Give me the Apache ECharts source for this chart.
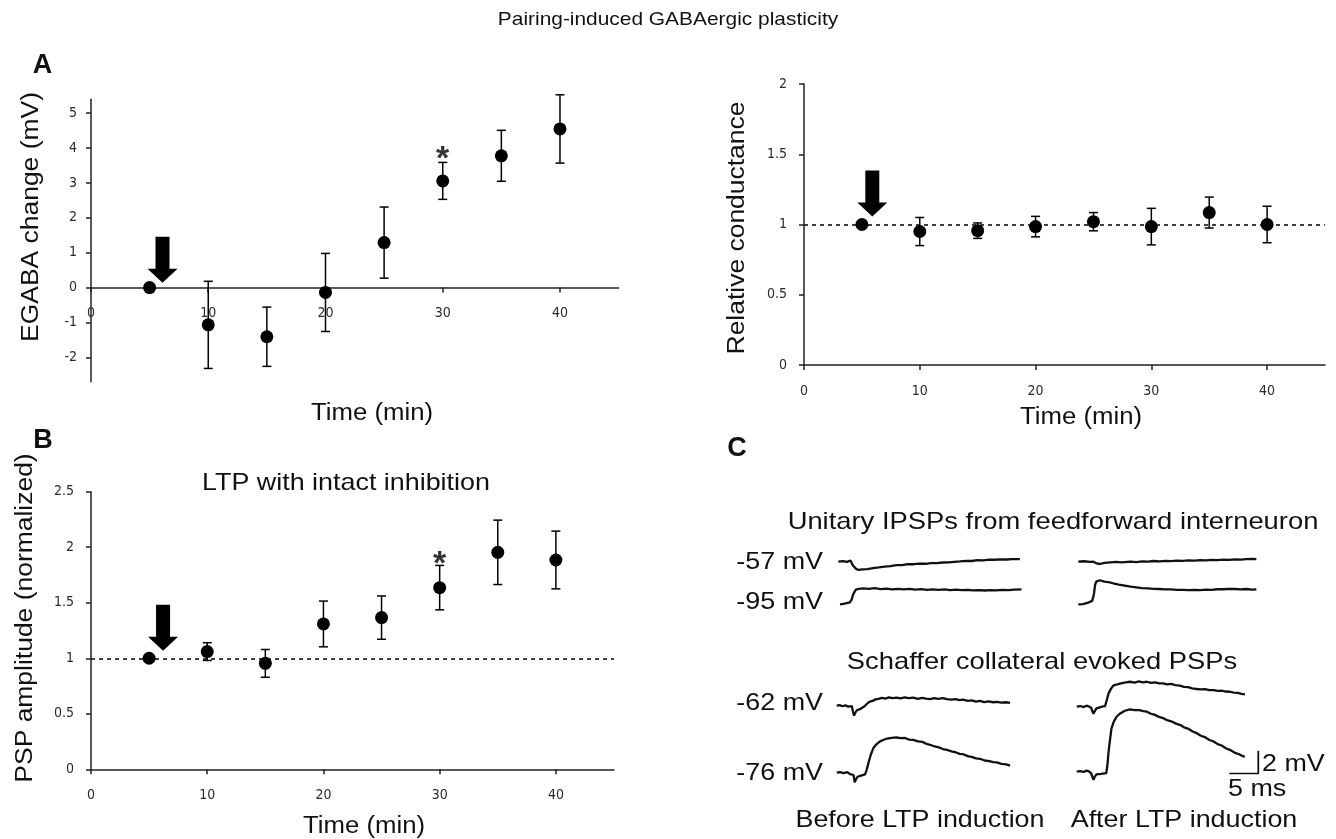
<!DOCTYPE html>
<html><head><meta charset="utf-8">
<script src="https://cdn.jsdelivr.net/npm/echarts@6/dist/echarts.min.js"></script>
<style>html,body{margin:0;padding:0;background:#fff}#c{width:1336px;height:839px}</style>
</head><body><div id="c"></div>
<script>
// ---------- data ----------
const timeMin = [5, 10, 15, 20, 25, 30, 35, 40];
const egabaMean = [0, -1.07, -1.41, -0.14, 1.29, 3.06, 3.78, 4.55];
const egabaErr  = [0, 1.25, 0.85, 1.12, 1.02, 0.53, 0.73, 0.98];
const condMean  = [1.0, 0.95, 0.956, 0.985, 1.02, 0.985, 1.085, 1.0];
const condErr   = [0, 0.10, 0.055, 0.073, 0.065, 0.13, 0.11, 0.13];
const pspMean   = [1.0, 1.06, 0.954, 1.309, 1.366, 1.636, 1.954, 1.885];
const pspErr    = [0, 0.08, 0.125, 0.206, 0.195, 0.20, 0.29, 0.26];
const xTicks  = [0, 10, 20, 30, 40];
const yTicksA = [-2, -1, 0, 1, 2, 3, 4, 5];
const yTicksR = [0, 0.5, 1, 1.5, 2];
const yTicksB = [0, 0.5, 1, 1.5, 2, 2.5];
const yRangeA = [-2.7, 5.4];
const baselineRel = 1;
const arrowA = [[6.1, 0.80]];
const arrowR = [[5.9, 1.22]];
const arrowB = [[6.2, 1.275]];
const starA = [[30, 3.97]];
const starB = [[30, 1.93]];
// traces: [time ms, mV relative to start]
const tr57Before = [[0,0],[0.8,0.05],[1.5,-0.02],[2.1,0.1],[2.5,-0.3],[3.0,-0.6],[3.5,-0.72],[4.2,-0.66],[5,-0.64],[6,-0.55],[7,-0.49],[8,-0.42],[9,-0.38],[10,-0.3],[11,-0.3],[12,-0.22],[13,-0.22],[14,-0.17],[15,-0.18],[16,-0.12],[17,-0.12],[18,-0.07],[19,-0.06],[20,-0.01],[21,0.02],[22,0.07],[23,0.06],[24,0.13],[25,0.12],[26,0.18],[27,0.17],[28,0.21],[29,0.19],[30,0.23],[31.3,0.23]];
const tr95Before = [[0,0],[0.8,0.05],[1.7,0.17],[2.0,0.4],[2.3,0.9],[2.7,1.25],[3.2,1.35],[4,1.38],[5,1.34],[6,1.4],[7,1.32],[8,1.37],[9,1.3],[10,1.35],[11,1.29],[12,1.34],[13,1.27],[14,1.32],[15,1.26],[16,1.3],[17,1.25],[18,1.29],[19,1.24],[20,1.28],[21,1.23],[22,1.26],[23,1.21],[24,1.24],[25,1.2],[26,1.23],[27,1.21],[28,1.25],[29,1.23],[30,1.28],[31.3,1.3]];
const tr57After = [[0,0],[1,0.04],[2,-0.02],[2.6,0],[3.2,-0.15],[3.7,-0.2],[4.5,-0.1],[5.5,-0.06],[6.5,-0.02],[7.5,-0.06],[9,0],[10,-0.03],[11,0.03],[12,0],[13,0.06],[14,0.03],[15,0.08],[16,0.05],[17,0.1],[18,0.07],[19,0.11],[20,0.1],[21,0.14],[22,0.11],[23,0.16],[24,0.13],[25,0.18],[26,0.15],[27,0.21],[28,0.18],[29,0.22],[30,0.25],[30.7,0.22]];
const tr95After = [[0,0],[0.8,0.02],[1.7,0.15],[2.4,0.3],[2.7,0.9],[2.9,1.7],[3.1,1.97],[3.7,2.09],[4.5,1.98],[5.2,1.93],[6,1.83],[7,1.72],[8,1.63],[9,1.53],[10,1.48],[11,1.41],[12,1.39],[13,1.34],[14,1.33],[15,1.29],[16,1.29],[17,1.26],[18,1.26],[19,1.24],[20,1.26],[21,1.24],[22,1.27],[23,1.26],[24,1.31],[25,1.31],[26,1.34],[27,1.33],[28,1.3],[29,1.33],[30,1.28],[30.7,1.3]];
const tr62Before = [[0,0],[0.5,0.05],[1,-0.05],[1.5,0.03],[2,-0.08],[2.6,-0.03],[2.8,-0.5],[3.0,-0.87],[3.2,-0.6],[3.5,-0.4],[4,-0.3],[4.3,-0.2],[4.8,-0.05],[5.3,0.2],[5.7,0.35],[6.2,0.42],[6.7,0.55],[7.2,0.6],[7.8,0.68],[8.4,0.62],[9,0.72],[9.6,0.66],[10.3,0.7],[11,0.63],[11.7,0.72],[12.4,0.65],[13.2,0.7],[14,0.6],[14.7,0.68],[15.4,0.62],[16.1,0.58],[16.8,0.66],[17.5,0.6],[18.3,0.66],[19,0.58],[19.8,0.52],[20.5,0.58],[21.2,0.48],[21.8,0.52],[22.6,0.42],[23.3,0.46],[24,0.36],[24.7,0.42],[25.4,0.32],[26.2,0.38],[27,0.3],[27.6,0.34],[28.4,0.26],[29.2,0.3],[29.9,0.25]];
const tr76Before = [[0,0],[0.6,0.05],[1.2,-0.03],[1.8,0.04],[2.3,-0.12],[2.9,-0.2],[3.1,-0.84],[3.3,-0.6],[3.6,-0.35],[4.2,-0.25],[4.9,-0.14],[5.2,0.3],[5.5,0.9],[5.9,1.6],[6.3,2.12],[6.8,2.45],[7.4,2.7],[8.0,2.84],[8.7,2.97],[9.5,3.03],[10.3,3.08],[11,3.0],[11.8,3.02],[12.5,2.88],[13.2,2.86],[14,2.72],[14.8,2.68],[15.5,2.5],[16.1,2.43],[16.9,2.28],[17.6,2.2],[18.3,2.06],[19,1.99],[19.8,1.86],[20.6,1.76],[21.2,1.64],[21.8,1.61],[22.6,1.44],[23.4,1.36],[24,1.24],[24.7,1.21],[25.5,1.06],[26.3,1.0],[27,0.92],[27.6,0.89],[28.4,0.76],[29.2,0.72],[29.9,0.61]];
const tr62After = [[0,0],[0.6,0.06],[1.2,-0.03],[1.7,0.09],[2.1,0.02],[2.5,-0.09],[2.7,-0.4],[2.9,-0.61],[3.1,-0.4],[3.4,-0.14],[4,-0.05],[4.5,0.02],[4.9,0.06],[5.2,0.6],[5.5,1.16],[5.9,1.55],[6.3,1.83],[7,1.95],[7.8,2.05],[8.5,2.12],[9.2,2.17],[10,2.1],[10.7,2.2],[11.4,2.12],[12.1,2.17],[12.8,2.08],[13.5,2.12],[14.2,2.02],[14.9,2.03],[15.6,1.95],[16.3,1.98],[17,1.88],[17.8,1.83],[18.5,1.72],[19.2,1.7],[19.9,1.6],[20.7,1.54],[21.4,1.5],[22.1,1.52],[22.9,1.44],[23.6,1.45],[24.3,1.38],[25,1.4],[25.7,1.32],[26.4,1.3],[27.1,1.22],[27.8,1.2],[28.4,1.12],[29,1.07]];
const tr76After = [[0,0],[0.6,0.05],[1.2,-0.02],[1.7,0.09],[2.1,0.03],[2.5,-0.14],[2.7,-0.45],[2.9,-0.7],[3.1,-0.45],[3.4,-0.23],[4.2,-0.18],[5.1,-0.12],[5.3,0.6],[5.5,1.74],[5.8,3.0],[6.0,3.77],[6.4,4.35],[6.9,4.8],[7.5,5.07],[8.3,5.3],[9.2,5.42],[10,5.36],[10.8,5.35],[11.5,5.26],[12.1,5.22],[12.8,5.04],[13.5,4.94],[14.2,4.76],[14.9,4.66],[15.6,4.48],[16.4,4.36],[17.1,4.18],[17.8,4.08],[18.5,3.86],[19.3,3.72],[20,3.5],[20.7,3.35],[21.4,3.13],[22.2,2.98],[22.9,2.76],[23.6,2.63],[24.3,2.4],[25,2.28],[25.7,2.04],[26.4,1.9],[27.2,1.66],[28,1.52],[28.5,1.38],[29,1.3]];
const scaleBar = [[0,0],[5,0],[5,2]];

// ---------- styling helpers ----------
const INK = '#000';
const AX = '#222';
const TICKC = '#2a2a2a';
const tickFont = "'Liberation Sans Narrow','DejaVu Sans Condensed','Liberation Sans',sans-serif";
const txtFont = "'Liberation Sans',Arial,sans-serif";

function xAx(gi, offset){
  return {gridIndex: gi, type: 'value', min: 0, max: 45, position: 'bottom', offset: offset,
    axisLine: {show: true, onZero: false, lineStyle: {color: AX, width: 1.5}},
    axisTick: {show: true, length: 5, customValues: xTicks, lineStyle: {color: AX, width: 1.5}},
    axisLabel: {customValues: xTicks, margin: 19, color: TICKC, fontSize: 14, fontFamily: tickFont},
    splitLine: {show: false}};
}
function yAx(gi, min, max, ticks, margin){
  return {gridIndex: gi, type: 'value', min: min, max: max,
    axisLine: {show: true, onZero: false, lineStyle: {color: AX, width: 1.5}},
    axisTick: {show: true, length: 5, customValues: ticks, lineStyle: {color: AX, width: 1.5}},
    axisLabel: {customValues: ticks, margin: margin, color: TICKC, fontSize: 14, fontFamily: tickFont},
    splitLine: {show: false}};
}
function errItem(params, api){
  const x = api.value(0), m = api.value(1), e = api.value(2);
  if (!e) return null;
  const top = api.coord([x, m + e]), bot = api.coord([x, m - e]);
  const w = 4.5, st = {stroke: INK, lineWidth: 1.5};
  return {type: 'group', children: [
    {type: 'line', shape: {x1: top[0], y1: top[1], x2: bot[0], y2: bot[1]}, style: st},
    {type: 'line', shape: {x1: top[0]-w, y1: top[1], x2: top[0]+w, y2: top[1]}, style: st},
    {type: 'line', shape: {x1: bot[0]-w, y1: bot[1], x2: bot[0]+w, y2: bot[1]}, style: st}
  ]};
}
function panelSeries(ai, mean, err, arrow, star, dashed){
  const pts = timeMin.map((t, i) => [t, mean[i]]);
  const ebs = timeMin.map((t, i) => [t, mean[i], err[i]]);
  const out = [];
  out.push({type: 'custom', xAxisIndex: ai, yAxisIndex: ai, renderItem: errItem, data: ebs,
    encode: {x: 0, y: 1}, z: 3, silent: true});
  const sc = {type: 'scatter', xAxisIndex: ai, yAxisIndex: ai, data: pts, symbol: 'circle', symbolSize: 13,
    itemStyle: {color: INK, opacity: 1}, z: 4, silent: true};
  if (dashed) sc.markLine = {silent: true, symbol: ['none', 'none'], label: {show: false},
    lineStyle: {type: [4, 4], color: '#111', width: 1.6, opacity: 1}, data: [{yAxis: baselineRel}], z: 2};
  out.push(sc);
  out.push({type: 'scatter', xAxisIndex: ai, yAxisIndex: ai, data: arrow,
    symbol: 'path://M8,0L22,0L22,32L30,32L15,46L0,32L8,32Z', symbolSize: [30, 46],
    itemStyle: {color: '#000', opacity: 1}, z: 6, silent: true});
  if (star) out.push({type: 'scatter', xAxisIndex: ai, yAxisIndex: ai, data: star, symbolSize: 1,
    itemStyle: {color: 'rgba(0,0,0,0)'}, z: 6, silent: true,
    label: {show: true, position: 'inside', formatter: '*', fontSize: 34, fontWeight: 'bold', fontFamily: txtFont, color: '#000', offset: [0, 10]}});
  return out;
}

// ---------- layout ----------
const grids = [
  {left: 91, top: 99.3, width: 527.6, height: 282.4},   // A
  {left: 804, top: 84, width: 521, height: 281},        // conductance
  {left: 91, top: 491.7, width: 523, height: 277.6}     // B
];
// x axis of panel A sits on the zero line of its y scale
const zeroOffsetA = -grids[0].height * (0 - yRangeA[0]) / (yRangeA[1] - yRangeA[0]);
const xAxes = [xAx(0, zeroOffsetA), xAx(1, 0), xAx(2, 0)];
const yAxes = [yAx(0, yRangeA[0], yRangeA[1], yTicksA, 14), yAx(1, 0, 2, yTicksR, 17), yAx(2, 0, 2.5, yTicksB, 17)];
let series = [];
series = series.concat(panelSeries(0, egabaMean, egabaErr, arrowA, starA, false));
series = series.concat(panelSeries(1, condMean, condErr, arrowR, null, true));
series = series.concat(panelSeries(2, pspMean, pspErr, arrowB, starB, true));

// traces panel C: 5.8 px per ms, 11.5 px per mV
const PXMS = 5.8, PXMV = 11.5;
const traces = [
  {d: tr57Before, sx: 838.3, by: 561.7},
  {d: tr95Before, sx: 840.0, by: 604.3},
  {d: tr57After,  sx: 1078.3, by: 561.7},
  {d: tr95After,  sx: 1078.3, by: 604.3},
  {d: tr62Before, sx: 836.7, by: 705.7},
  {d: tr76Before, sx: 836.7, by: 772.7},
  {d: tr62After,  sx: 1076.7, by: 706.7},
  {d: tr76After,  sx: 1076.7, by: 771.7}
];
traces.forEach(tr => {
  const gi = grids.length;
  grids.push({left: tr.sx, top: tr.by - 6 * PXMV, width: 32 * PXMS, height: 8 * PXMV});
  xAxes.push({gridIndex: gi, type: 'value', min: 0, max: 32, show: false});
  yAxes.push({gridIndex: gi, type: 'value', min: -2, max: 6, show: false});
  series.push({type: 'line', xAxisIndex: gi, yAxisIndex: gi, data: tr.d, showSymbol: false, symbol: 'none',
    lineStyle: {color: '#111', width: 2.3}, silent: true, z: 3});
});
{
  const gi = grids.length;
  grids.push({left: 1229.3, top: 750.7, width: 5 * PXMS, height: 2 * PXMV});
  xAxes.push({gridIndex: gi, type: 'value', min: 0, max: 5, show: false});
  yAxes.push({gridIndex: gi, type: 'value', min: 0, max: 2, show: false});
  series.push({type: 'line', xAxisIndex: gi, yAxisIndex: gi, data: scaleBar, showSymbol: false, symbol: 'none',
    lineStyle: {color: '#111', width: 1.8}, silent: true});
}

function T(x, y, text, size, o){
  o = o || {};
  return {type: 'text', x: x, y: y, rotation: o.rot || 0, scaleX: o.sx || 1, silent: true,
    style: {text: text, fontSize: size, fontFamily: txtFont, fontWeight: o.bold ? 'bold' : 'normal',
      fill: '#111', align: o.align || 'center', verticalAlign: 'middle'}};
}
const R90 = Math.PI / 2;
const graphics = [
  T(668, 20, 'Pairing-induced GABAergic plasticity', 19, {sx: 1.1}),
  T(42.5, 66, 'A', 27, {bold: true}),
  T(43, 441, 'B', 27, {bold: true}),
  T(737, 449, 'C', 27, {bold: true}),
  T(32, 217, 'EGABA change (mV)', 23, {rot: R90, sx: 1.15}),
  T(738, 228, 'Relative conductance', 23, {rot: R90, sx: 1.15}),
  T(26, 618, 'PSP amplitude (normalized)', 23, {rot: R90, sx: 1.15}),
  T(372, 414, 'Time (min)', 23, {sx: 1.12}),
  T(1081, 418, 'Time (min)', 23, {sx: 1.12}),
  T(364, 827, 'Time (min)', 23, {sx: 1.12}),
  T(346, 483, 'LTP with intact inhibition', 24, {sx: 1.12}),
  T(1053, 522, 'Unitary IPSPs from feedforward interneuron', 24, {sx: 1.14}),
  T(1042, 662, 'Schaffer collateral evoked PSPs', 24, {sx: 1.14}),
  T(823, 562, '-57 mV', 24, {sx: 1.12, align: 'right'}),
  T(823, 602, '-95 mV', 24, {sx: 1.12, align: 'right'}),
  T(823, 703, '-62 mV', 24, {sx: 1.12, align: 'right'}),
  T(823, 773, '-76 mV', 24, {sx: 1.12, align: 'right'}),
  T(920, 820, 'Before LTP induction', 24, {sx: 1.12}),
  T(1184, 820, 'After LTP induction', 24, {sx: 1.12}),
  T(1262, 764, '2 mV', 24, {sx: 1.12, align: 'left'}),
  T(1228, 789, '5 ms', 24, {sx: 1.12, align: 'left'})
];

const chart = echarts.init(document.getElementById('c'), null, {renderer: 'canvas'});
chart.setOption({
  animation: false,
  backgroundColor: '#fff',
  grid: grids,
  xAxis: xAxes,
  yAxis: yAxes,
  series: series,
  graphic: graphics
});
</script></body></html>
